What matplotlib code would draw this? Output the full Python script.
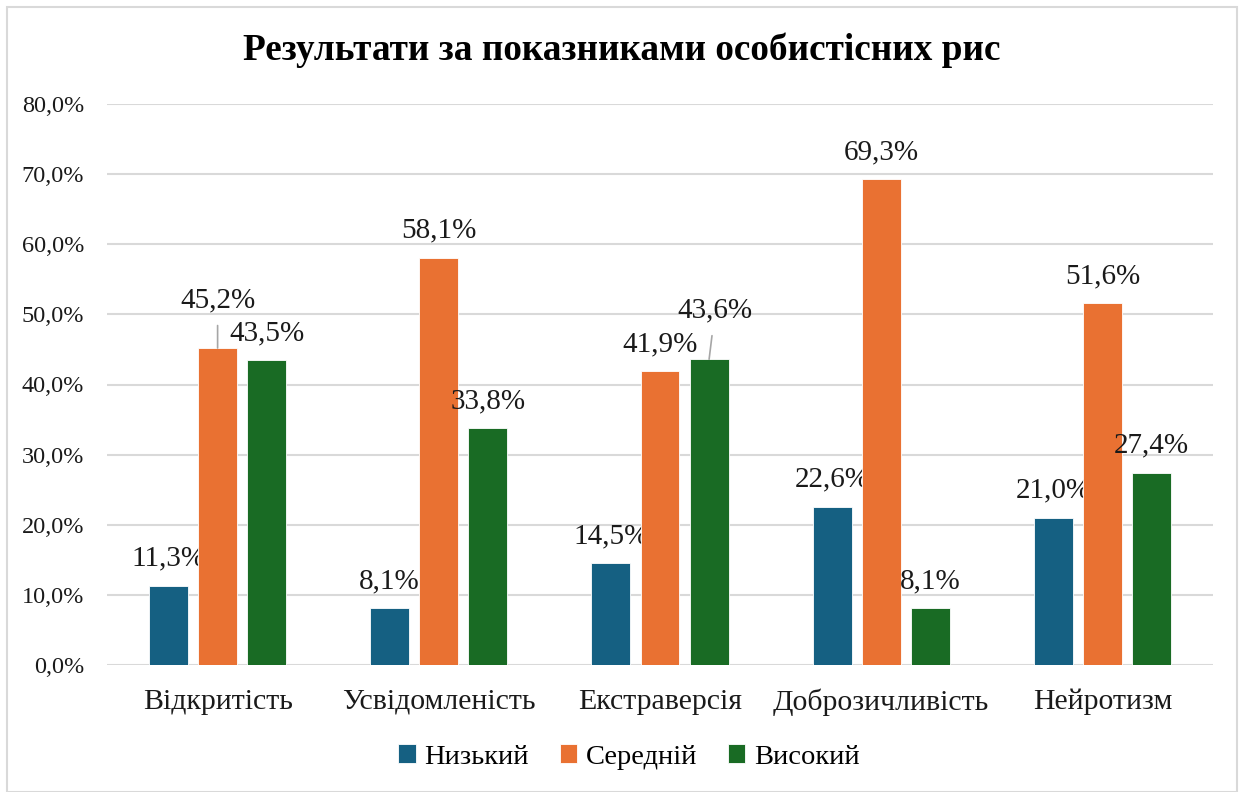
import matplotlib
matplotlib.use("Agg")
import matplotlib.pyplot as plt
from matplotlib.patches import Rectangle
import numpy as np

categories = ["Відкритість", "Усвідомленість", "Екстраверсія", "Доброзичливість", "Нейротизм"]
series_names = ["Низький", "Середній", "Високий"]
low = [11.3, 8.1, 14.5, 22.6, 21.0]
mid = [45.2, 58.1, 41.9, 69.3, 51.6]
high = [43.5, 33.8, 43.6, 8.1, 27.4]
yticks = [0, 10, 20, 30, 40, 50, 60, 70, 80]
title = "Результати за показниками особистісних рис"

colors = ["#156082", "#E97132", "#196B24"]
serif = ["Liberation Serif", "DejaVu Serif"]
plt.rcParams["font.family"] = serif

fig = plt.figure(figsize=(12.44, 7.92), dpi=100)
fig.patches.append(Rectangle((7 / 1244, 0), (1237 - 7) / 1244, (792 - 7) / 792,
                             transform=fig.transFigure, fill=False,
                             edgecolor="#d9d9d9", linewidth=1.5))
ax = fig.add_axes([107 / 1244, 127 / 792, (1213 - 107) / 1244, (665 - 104) / 792])

x = np.arange(len(categories))
width = 0.176
step = 0.222
all_series = [low, mid, high]

# label offsets (pixels) for labels moved to avoid overlap: (series, category) -> (dx, dy, leader)
special = {(1, 0): (0, 48, True), (2, 2): (6, 49, True)}

for si, (vals, col, name) in enumerate(zip(all_series, colors, series_names)):
    xs = x + (si - 1) * step
    ax.bar(xs, [v / 100 for v in vals], width=width, color=col, label=name,
           edgecolor="white", linewidth=0.6, zorder=3)
    for ci, (xx, v) in enumerate(zip(xs, vals)):
        txt = f"{v:.1f}%".replace(".", ",")
        dx, dy, leader = special.get((si, ci), (0, 27, False))
        kw = dict(textcoords="offset points", ha="center", va="center",
                  fontsize=21, color="#1a1a1a")
        if leader:
            kw["arrowprops"] = dict(arrowstyle="-", color="#a6a6a6", lw=1.2,
                                    shrinkA=7, shrinkB=0)
        ax.annotate(txt, xy=(xx, v / 100), xytext=(dx * 0.72, dy * 0.72), **kw)

ax.set_xlim(-0.5, len(categories) - 0.5)
ax.set_ylim(0, 0.8)
ax.set_yticks([t / 100 for t in yticks])
ax.set_yticklabels([f"{t:.1f}%".replace(".", ",") for t in yticks], fontsize=17.5, color="#1a1a1a")
ax.set_xticks(x)
ax.set_xticklabels(categories, fontsize=21.5, color="#1a1a1a")
ax.tick_params(axis="both", length=0)
ax.tick_params(axis="y", pad=16.5)
ax.tick_params(axis="x", pad=17)
for s in ax.spines.values():
    s.set_visible(False)
ax.grid(axis="y", color="#d9d9d9", linewidth=1.5, zorder=0)
ax.set_axisbelow(True)

fig.text(622 / 1244, 1 - 50 / 792, title, ha="center", va="center",
         fontsize=26.8, fontweight="bold", color="black")

fig.legend(loc="center", bbox_to_anchor=(629 / 1244, 1 - 757 / 792), ncol=3,
           frameon=False, fontsize=20.5, handlelength=0.6, handleheight=0.6,
           handletextpad=0.3, columnspacing=1.1)

fig.savefig("out.png", dpi=100)
